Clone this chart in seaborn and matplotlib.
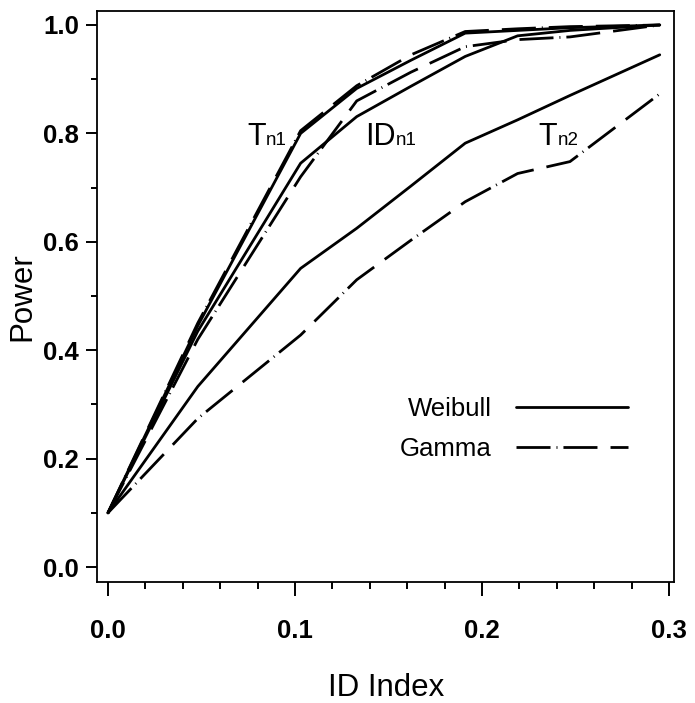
import numpy as np
import pandas as pd
import matplotlib
matplotlib.use("Agg")
import matplotlib.pyplot as plt
import seaborn as sns
from matplotlib import font_manager as fm
from matplotlib import transforms as mtransforms
from matplotlib.ticker import MultipleLocator, FormatStrFormatter

# ---------------- data ----------------
id_index = [0.0, 0.048, 0.103, 0.133, 0.162, 0.191, 0.219, 0.247, 0.295]

tn1_weibull = [0.10, 0.445, 0.800, 0.883, 0.935, 0.985, 0.990, 0.995, 1.000]
tn1_gamma = [0.10, 0.450, 0.805, 0.888, 0.945, 0.988, 0.993, 0.997, 1.000]
idn1_weibull = [0.10, 0.435, 0.745, 0.831, 0.887, 0.942, 0.980, 0.990, 1.000]
idn1_gamma = [0.10, 0.420, 0.720, 0.860, 0.913, 0.960, 0.973, 0.978, 1.000]
tn2_weibull = [0.10, 0.333, 0.551, 0.625, 0.703, 0.782, 0.825, 0.870, 0.945]
tn2_gamma = [0.10, 0.274, 0.428, 0.530, 0.603, 0.674, 0.726, 0.748, 0.873]

statistics = ["Tn1", "IDn1", "Tn2"]
distributions = ["Weibull", "Gamma"]
series = {
    ("Tn1", "Weibull"): tn1_weibull,
    ("Tn1", "Gamma"): tn1_gamma,
    ("IDn1", "Weibull"): idn1_weibull,
    ("IDn1", "Gamma"): idn1_gamma,
    ("Tn2", "Weibull"): tn2_weibull,
    ("Tn2", "Gamma"): tn2_gamma,
}

# curve labels: (main letters, small letters, x, y)
curve_labels = [("T", "n1", 0.0743, 0.7786),
                ("ID", "n1", 0.1374, 0.7786),
                ("T", "n2", 0.2300, 0.7786)]

rows = []
for (stat, dist), vals in series.items():
    for xv, yv in zip(id_index, vals):
        rows.append({"id": xv, "power": yv, "statistic": stat,
                     "distribution": dist, "curve": stat + "-" + dist})
df = pd.DataFrame(rows)

# ---------------- style ----------------
sns.set_theme(style="ticks")


def has_font(name):
    try:
        fm.findfont(fm.FontProperties(family=name), fallback_to_default=False)
        return True
    except Exception:
        return False


narrow = "Liberation Sans Narrow" if has_font("Liberation Sans Narrow") else "Liberation Sans"
plt.rcParams["font.family"] = ["Liberation Sans", "DejaVu Sans"]
plt.rcParams["lines.scale_dashes"] = False
plt.rcParams["text.color"] = "black"
plt.rcParams["axes.labelcolor"] = "black"
plt.rcParams["xtick.color"] = "black"
plt.rcParams["ytick.color"] = "black"
plt.rcParams["axes.edgecolor"] = "black"

fig = plt.figure(figsize=(6.95, 7.03), dpi=100)
ax = fig.add_axes([0.140, 0.172, 0.830, 0.8128])

gamma_dash = (24.5, 4.3, 0.7, 4.3, 24.5, 9.4)
sns.lineplot(data=df, x="id", y="power", units="curve", estimator=None,
             style="distribution", style_order=distributions,
             dashes={"Weibull": "", "Gamma": gamma_dash},
             color="black", linewidth=2.0, sort=False, ax=ax)

ax.set_xlim(-0.0057, 0.3027)
ax.set_ylim(-0.0277, 1.0264)

ax.xaxis.set_major_locator(MultipleLocator(0.1))
ax.xaxis.set_minor_locator(MultipleLocator(0.02))
ax.yaxis.set_major_locator(MultipleLocator(0.2))
ax.yaxis.set_minor_locator(MultipleLocator(0.1))
ax.xaxis.set_major_formatter(FormatStrFormatter("%.1f"))
ax.yaxis.set_major_formatter(FormatStrFormatter("%.1f"))

ax.tick_params(axis="x", which="major", length=10, width=1.4, pad=16.5,
               direction="out", color="black")
ax.tick_params(axis="x", which="minor", length=5, width=1.4,
               direction="out", color="black")
ax.tick_params(axis="y", which="major", length=8, width=1.4, pad=5,
               direction="out", color="black")
ax.tick_params(axis="y", which="minor", length=4, width=1.4,
               direction="out", color="black")
for lab in ax.get_xticklabels() + ax.get_yticklabels():
    lab.set_fontfamily(["Liberation Sans", "DejaVu Sans"])
    lab.set_fontweight("bold")
    lab.set_fontsize(18.5)
    lab.set_color("black")

for sp in ax.spines.values():
    sp.set_visible(True)
    sp.set_linewidth(1.3)
    sp.set_color("black")

ax.set_xlabel("ID Index", fontsize=22.5, family=[narrow, "DejaVu Sans"],
              labelpad=22, color="black")
ax.set_ylabel("Power", fontsize=22.5, family=[narrow, "DejaVu Sans"],
              labelpad=4, color="black")

# legend: text first, line after
old = ax.get_legend()
handles = list(old.legend_handles)
labels = [t.get_text() for t in old.get_texts()]
old.remove()
leg = ax.legend(handles, labels, markerfirst=False, frameon=False,
                loc="upper right", bbox_to_anchor=(0.920, 0.324),
                prop=fm.FontProperties(family="Liberation Sans", size=18.5),
                handlelength=4.36, handletextpad=0.95, labelspacing=0.62,
                borderpad=0, borderaxespad=0)
for txt in leg.get_texts():
    txt.set_color("black")
for h in leg.legend_handles:
    h.set_linewidth(2.0)

# curve labels
fig.canvas.draw()
renderer = fig.canvas.get_renderer()
for big, small, xv, yv in curve_labels:
    t = ax.text(xv, yv, big, fontsize=22, family=[narrow, "DejaVu Sans"],
                ha="left", va="baseline", color="black")
    w_px = t.get_window_extent(renderer=renderer).width
    tr = mtransforms.offset_copy(ax.transData, fig=fig,
                                 x=w_px * 72.0 / fig.dpi + 0.5, y=0, units="points")
    ax.text(xv, yv, small, fontsize=13.5, family=[narrow, "DejaVu Sans"],
            ha="left", va="baseline", color="black", transform=tr)

fig.savefig("out.png", dpi=100)
